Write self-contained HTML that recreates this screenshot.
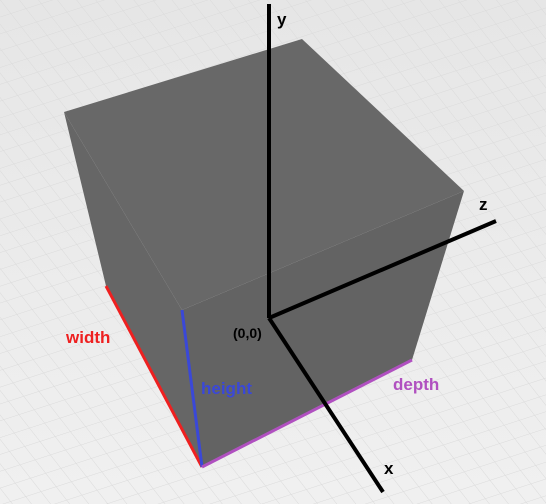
<!DOCTYPE html>
<html><head><meta charset="utf-8"><style>
html,body{margin:0;padding:0;background:#ececec;}
svg{display:block;}
text{font-family:"Liberation Sans",Arial,sans-serif;font-weight:bold;}
</style></head><body>
<svg width="546" height="504" viewBox="0 0 546 504">
<defs>
<linearGradient id="bg" x1="0" y1="0" x2="0" y2="1"><stop offset="0" stop-color="#e6e6e6"/><stop offset="1" stop-color="#f0f0f0"/></linearGradient>
<pattern id="grid" width="16" height="16" patternUnits="userSpaceOnUse" patternTransform="rotate(-18) skewX(20)">
<path d="M16 0H0V16" fill="none" stroke="#dadada" stroke-width="1"/></pattern>
</defs>
<rect width="546" height="504" fill="url(#bg)"/>
<rect width="546" height="504" fill="url(#grid)"/>
<g>
<polygon points="64,112 302,39 464,191 182,310" fill="#686868"/>
<polygon points="64,112 182,310 202,467 106,286" fill="#666666"/>
<polygon points="182,310 464,191 412,360 202,467" fill="#636363"/>
</g>
<line x1="106" y1="286" x2="202" y2="467" stroke="#ee2020" stroke-width="3"/>
<line x1="182" y1="310" x2="202" y2="467" stroke="#3a48d8" stroke-width="3"/>
<line x1="202" y1="467" x2="412" y2="360" stroke="#b050c0" stroke-width="3"/>
<g stroke="#000" stroke-width="4" fill="none">
<line x1="269" y1="4" x2="269" y2="318"/>
<line x1="269" y1="318" x2="496" y2="221"/>
<line x1="269" y1="318" x2="383" y2="492"/>
</g>
<text x="277" y="25" font-size="17" fill="#000">y</text>
<text x="479" y="210" font-size="17" fill="#000">z</text>
<text x="384" y="474" font-size="17" fill="#000">x</text>
<text x="233" y="338" font-size="14" fill="#000">(0,0)</text>
<text x="66" y="343" font-size="17" fill="#ee2020">width</text>
<text x="201" y="394" font-size="17" fill="#3a48d8">height</text>
<text x="393" y="390" font-size="17" fill="#b050c0">depth</text>
</svg>
</body></html>
